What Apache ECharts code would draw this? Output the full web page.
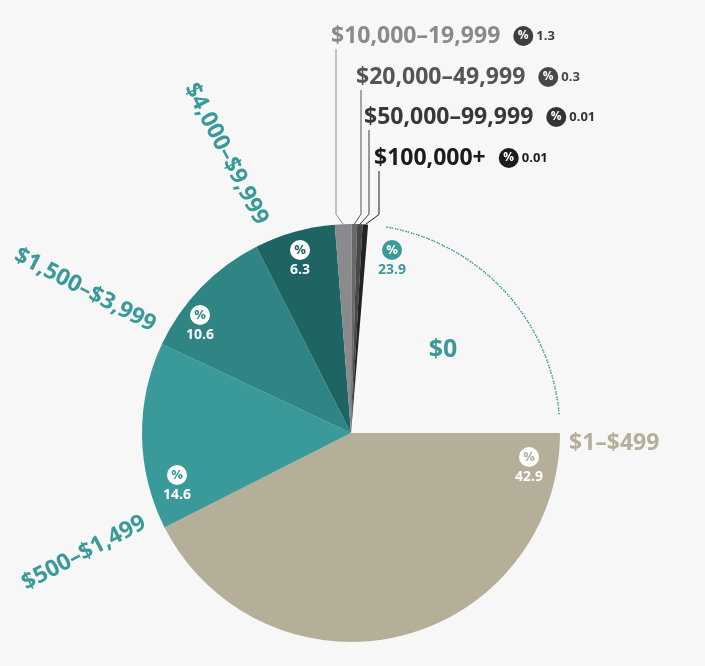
<!DOCTYPE html>
<html>
<head>
<meta charset="utf-8">
<script src="https://cdn.jsdelivr.net/npm/echarts@6/dist/echarts.min.js"></script>
<style>
    html, body { margin: 0; padding: 0; background: #f7f7f7; }
    #chart { width: 705px; height: 666px; }
</style>
</head>
<body>
<div id="chart"></div>
<script>
    // brackets, clockwise from 3 o'clock
    var categories = ['$1–$499', '$500–$1,499', '$1,500–$3,999', '$4,000–$9,999', '$10,000–19,999', '$20,000–49,999', '$50,000–99,999', '$100,000+', '$0'];
    var shares = [42.9, 14.6, 10.6, 6.3, 1.3, 0.3, 0.01, 0.01, 23.9];

    var FONT = '"Open Sans", sans-serif';
    var CX = 351, CY = 433, R = 209;
    var MIN_ANGLE = 1.5;  // keeps the 0.01 slices visible
    var ARC_PAD = 10;     // inset of the dotted arc on the $0 slice

    var sliceColors = ['#b5af9a', '#3a9a99', '#2e8584', '#1d6463', '#8a898c', '#69686b', '#48474a', '#222222', 'transparent'];
    var nameColors = ['#b5af9a', '#3a9a99', '#3a9a99', '#3a9a99', '#8a898c', '#555457', '#38373a', '#1c1c1c', '#3a9a99'];
    var badgeColors = ['#b5af9a', '#3a9a99', '#2e8584', '#1d6463', '#3f3f41', '#47474a', '#333335', '#1c1c1c', '#3a9a99'];
    // centre of the inner "% / value" badges
    var badgePos = [[529, 467], [177, 485], [200, 325], [300, 260], null, null, null, null, [392, 260]];
    // name labels: x, y, rotation, align
    var namePos = [[569, 443, 0, 'left'], [84, 553, 27.6, 'center'], [85, 290, -27.5, 'center'], [226, 154, -62.5, 'center'],
                   [331, 36, 0, 'left'], [356, 77, 0, 'left'], [364, 117, 0, 'left'], [374, 158, 0, 'left'], [443, 350, 0, 'center']];
    var smallSlices = [4, 5, 6, 7];
    var ZERO = 8;

    var pieData = categories.map(function (name, i) {
        var z = i === ZERO;
        return {
            name: name,
            value: shares[i],
            itemStyle: { color: sliceColors[i] },
            label: {
                show: badgePos[i] != null,
                formatter: '{p|%}\n{v|' + shares[i] + '}',
                rich: {
                    p: {
                        width: 20, height: 20, lineHeight: 20, borderRadius: 10, align: 'center',
                        backgroundColor: z ? '#3a9a99' : '#fff', color: z ? '#fff' : badgeColors[i],
                        fontSize: 13, fontWeight: 'bold', fontFamily: FONT
                    },
                    v: {
                        fontSize: 14, fontWeight: 'bold', lineHeight: 20, align: 'center',
                        color: z ? '#3a9a99' : '#fff', fontFamily: FONT
                    }
                }
            }
        };
    });

    var nameData = categories.map(function (name, i) {
        var small = smallSlices.indexOf(i) >= 0;
        return {
            name: name,
            value: shares[i],
            label: {
                formatter: small ? '{n|' + name + '}{s| }{p|%}{v|' + shares[i] + '}' : '{n|' + name + '}',
                rich: {
                    n: { fontSize: i === ZERO ? 25 : 23, fontWeight: 'bold', color: nameColors[i], fontFamily: FONT },
                    s: { width: 13 },
                    p: {
                        width: 20, height: 20, lineHeight: 20, borderRadius: 10, align: 'center',
                        backgroundColor: badgeColors[i], color: '#fff', fontSize: 12, fontWeight: 'bold', fontFamily: FONT
                    },
                    v: { fontSize: 13, fontWeight: 'bold', color: badgeColors[i], padding: [0, 0, 0, 3], fontFamily: FONT }
                }
            },
            labelLine: { show: small, lineStyle: { color: nameColors[i], width: 1 } }
        };
    });

    var arcData = categories.map(function (name, i) {
        return {
            name: name,
            value: shares[i],
            itemStyle: i === ZERO
                ? { color: 'none', borderColor: '#3a9a99', borderWidth: 1.5, borderType: [1.5, 4] }
                : { color: 'none', borderWidth: 0 }
        };
    });

    var chart = echarts.init(document.getElementById('chart'));
    chart.setOption({
        backgroundColor: '#f7f7f7',
        animation: false,
        series: [
            {
                type: 'pie',
                silent: true,
                center: [CX, CY],
                radius: [0, R],
                startAngle: 0,
                clockwise: true,
                minAngle: MIN_ANGLE,
                avoidLabelOverlap: false,
                emphasis: { disabled: true },
                itemStyle: { borderWidth: 0 },
                label: { position: 'inside' },
                labelLine: { show: false },
                labelLayout: function (p) {
                    var b = badgePos[p.dataIndex];
                    if (!b) return {};
                    return { x: b[0], y: b[1], align: 'center', verticalAlign: 'middle' };
                },
                data: pieData
            },
            {
                type: 'pie',
                silent: true,
                center: [CX, CY],
                radius: [0, R],
                startAngle: 0,
                clockwise: true,
                minAngle: MIN_ANGLE,
                avoidLabelOverlap: false,
                emphasis: { disabled: true },
                itemStyle: { color: 'none', borderWidth: 0 },
                label: { show: true, position: 'outside' },
                labelLine: { show: false },
                labelLayout: function (p) {
                    var np = namePos[p.dataIndex];
                    var out = { x: np[0], y: np[1], rotate: np[2], align: np[3], verticalAlign: 'middle' };
                    var pts = p.labelLinePoints;
                    if (smallSlices.indexOf(p.dataIndex) >= 0 && pts) {
                        var top = [np[0] + 5, np[1] + 13];
                        out.labelLinePoints = [pts[0], [top[0], pts[0][1] - 10], top];
                    }
                    return out;
                },
                data: nameData
            },
            {
                type: 'pie',
                silent: true,
                center: [CX, CY],
                radius: [R, R],
                startAngle: 0,
                clockwise: true,
                minAngle: MIN_ANGLE - ARC_PAD,
                padAngle: ARC_PAD,
                emphasis: { disabled: true },
                label: { show: false },
                labelLine: { show: false },
                data: arcData
            }
        ]
    });
</script>
</body>
</html>
